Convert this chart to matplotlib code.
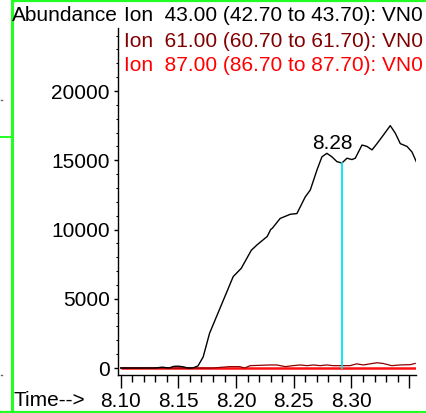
import numpy as np
import matplotlib
matplotlib.use("Agg")
import matplotlib.pyplot as plt
from matplotlib.lines import Line2D
from matplotlib.ticker import MultipleLocator

plt.rcParams["font.family"] = ["Liberation Sans", "DejaVu Sans"]

# ion 43 trace (time, abundance)
t43 = [8.100, 8.120, 8.130, 8.136, 8.142, 8.146, 8.150, 8.154, 8.158, 8.1625,
       8.167, 8.1715, 8.177, 8.186, 8.1975, 8.2045, 8.2132, 8.2183, 8.2270,
       8.2300, 8.2315, 8.2382, 8.2470, 8.2527, 8.2599, 8.2643, 8.2701, 8.2744,
       8.2787, 8.2830, 8.2874, 8.2917, 8.2961, 8.3004, 8.3033, 8.3091, 8.3134,
       8.3178, 8.3221, 8.3279, 8.3336, 8.3380, 8.3423, 8.3481, 8.3524, 8.3567]
v43 = [0, 0, 0, 60, 0, 120, 130, 90, 0, 0,
       150, 800, 2500, 4300, 6600, 7200, 8500, 8900, 9500,
       10000, 10100, 10800, 11100, 11150, 12350, 12850, 14300, 15250,
       15500, 15250, 14900, 14800, 15150, 15050, 15150, 16100, 16000,
       15750, 16200, 16850, 17500, 16950, 16200, 16000, 15600, 14800]

# ion 61 trace
t61 = [8.100, 8.180, 8.1945, 8.2031, 8.2075, 8.2122, 8.2295, 8.2352, 8.2428,
       8.2493, 8.2556, 8.2614, 8.2671, 8.2729, 8.2786, 8.2840, 8.2930, 8.2988,
       8.3045, 8.3103, 8.3219, 8.3273, 8.3349, 8.3421, 8.3508, 8.3552]
v61 = [0, 0, 100, 100, 0, 170, 220, 220, 100, 170,
       220, 170, 220, 170, 220, 170, 170, 170,
       300, 220, 380, 330, 170, 220, 240, 330]

# ion 87 trace
t87 = [8.100, 8.3567]
v87 = [0, 0]

cursor_t = 8.292
apex_label = "8.28"
apex_t = 8.2787

ion_labels = ["Ion  43.00 (42.70 to 43.70): VN0",
              "Ion  61.00 (60.70 to 61.70): VN0",
              "Ion  87.00 (86.70 to 87.70): VN0"]
ion_colors = ["black", "#800000", "#ff0000"]

fs = 15

fig = plt.figure(figsize=(4.26, 4.13), dpi=100)
ax = fig.add_axes([118 / 426, 1 - 375 / 413, 298 / 426, 347 / 413])

ax.plot(t87, v87, color="#ff1010", lw=1.8, solid_capstyle="butt")
ax.plot(t61, v61, color="#8b0000", lw=0.9)
ax.plot(t43, v43, color="black", lw=1.0)

cursor_v = np.interp(cursor_t, t43, v43)
ax.plot([cursor_t, cursor_t], [0, cursor_v], color="#00e5ee", lw=1.3)

apex_v = np.interp(apex_t, t43, v43)
ax.text(apex_t + 0.0045, apex_v + 330, apex_label, ha="center", va="baseline",
        fontsize=fs)

ax.set_xlim(8.0977, 8.3559)
ax.set_ylim(-505, 24550)
ax.set_xticks([8.10, 8.15, 8.20, 8.25, 8.30, 8.35])
ax.set_xticklabels(["8.10", "8.15", "8.20", "8.25", "8.30", ""])
ax.xaxis.set_minor_locator(MultipleLocator(0.01))
ax.set_yticks([0, 5000, 10000, 15000, 20000])
ax.yaxis.set_minor_locator(MultipleLocator(1000))

for s in ["top", "right"]:
    ax.spines[s].set_visible(False)
for s in ["left", "bottom"]:
    ax.spines[s].set_linewidth(1.0)

ax.tick_params(axis="x", which="major", direction="out", length=9, width=1,
               pad=3, labelsize=fs)
ax.tick_params(axis="x", which="minor", direction="out", length=5, width=1)
ax.tick_params(axis="y", which="major", direction="out", length=3, width=1,
               pad=3, labelsize=fs)
ax.tick_params(axis="y", which="minor", direction="out", length=1.5, width=0.8)

# header text
fig.text(12 / 426, 1 - 21 / 413, "Abundance", fontsize=fs, va="baseline")
for lab, col, yb in zip(ion_labels, ion_colors, [21, 47, 71]):
    fig.text(124 / 426, 1 - yb / 413, lab, fontsize=fs, color=col,
             va="baseline")
fig.text(13 / 426, 1 - 406 / 413, "Time-->", fontsize=fs, va="baseline")

# window frame
green = "#22ff22"
def px_line(xs, ys, **kw):
    fig.add_artist(Line2D([x / 426 for x in xs], [1 - y / 413 for y in ys],
                          transform=fig.transFigure, **kw))

px_line([11.5, 426], [0.8, 0.8], color=green, lw=1.6)
px_line([11.5, 11.5], [0, 413], color=green, lw=2.2)
px_line([0, 426], [411.5, 411.5], color=green, lw=1.6)
px_line([0, 11], [137, 137], color=green, lw=1.4)
px_line([0.5, 1.5], [100, 100], color="#666666", lw=1)
px_line([0.5, 1.5], [375, 375], color="#666666", lw=1)

fig.savefig("out.png", dpi=100)
